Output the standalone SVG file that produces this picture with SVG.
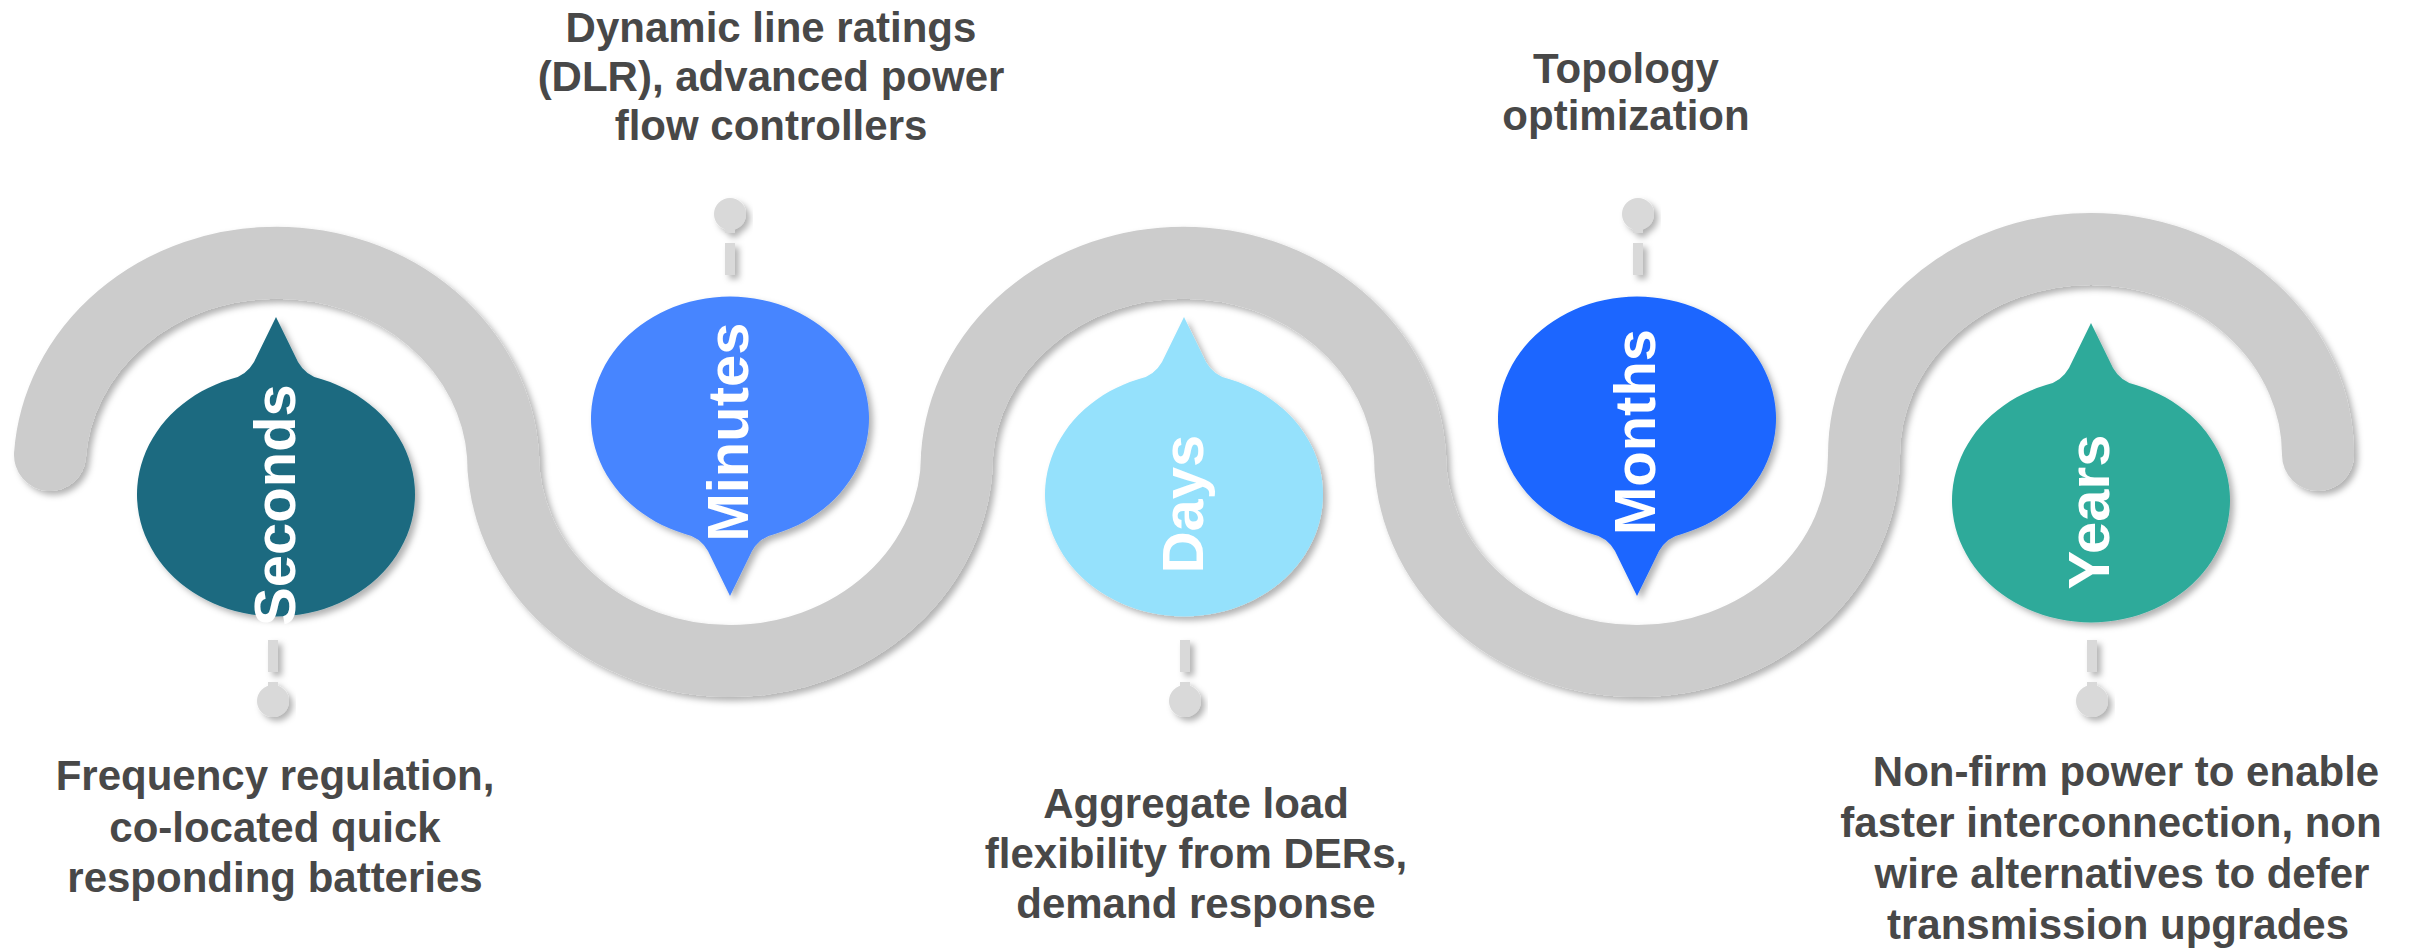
<svg xmlns="http://www.w3.org/2000/svg" width="2419" height="949" viewBox="0 0 2419 949">
<style>
.cap{font-family:"Liberation Sans",Arial,sans-serif;font-weight:bold;font-size:42px;fill:#484848;text-anchor:middle}
.lbl{font-family:"Liberation Sans",Arial,sans-serif;font-weight:bold;font-size:58px;fill:#ffffff;text-anchor:middle}
.pin{fill:#d9d9d9}
</style>
<defs>
<filter id="sh" x="-20%" y="-20%" width="140%" height="140%">
<feDropShadow dx="4" dy="4" stdDeviation="3" flood-color="#000" flood-opacity="0.3"/>
</filter>
<path id="drop" d="M-45,-115 Q-30,-118 -22,-132 L0,-177 L22,-132 Q30,-118 45,-115 A139,122 0 1 1 -45,-115 Z"/>
<g id="pinDown">
<rect x="-5" y="0" width="10" height="32"/>
<rect x="-5" y="42" width="10" height="10"/>
<circle cx="0" cy="61" r="16"/>
</g>
</defs>
<rect width="2419" height="949" fill="#ffffff"/>
<g id="connectors" filter="url(#sh)">
<path d="M50,455 A227,206 0 0 1 503,455 A227,206 0 0 0 957,455 A227,206 0 0 1 1410,455 A227,206 0 0 0 1864,455 A227,206 0 0 1 2318,455" fill="none" stroke="#cccccc" stroke-width="72" stroke-linecap="round"/>
</g>
<g id="seconds">
<g filter="url(#sh)"><use href="#drop" transform="translate(276,494)" fill="#1b6b80"/></g>
<g class="pin" filter="url(#sh)"><use href="#pinDown" transform="translate(273,640)"/></g>
<text class="lbl" transform="translate(295,505) rotate(-90)">Seconds</text>
<text class="cap"><tspan x="275" y="790">Frequency regulation,</tspan><tspan x="275" y="842">co-located quick</tspan><tspan x="275" y="892">responding batteries</tspan></text>
</g>
<g id="minutes">
<g filter="url(#sh)"><use href="#drop" transform="translate(730,419) scale(1,-1)" fill="#4785ff"/></g>
<g class="pin" filter="url(#sh)"><use href="#pinDown" transform="translate(730,275) scale(1,-1)"/></g>
<text class="lbl" transform="translate(748,432) rotate(-90)">Minutes</text>
<text class="cap"><tspan x="771" y="42">Dynamic line ratings</tspan><tspan x="771" y="91">(DLR), advanced power</tspan><tspan x="771" y="140">flow controllers</tspan></text>
</g>
<g id="days">
<g filter="url(#sh)"><use href="#drop" transform="translate(1184,494)" fill="#95e1fc"/></g>
<g class="pin" filter="url(#sh)"><use href="#pinDown" transform="translate(1185,640)"/></g>
<text class="lbl" transform="translate(1203,504) rotate(-90)">Days</text>
<text class="cap"><tspan x="1196" y="818">Aggregate load</tspan><tspan x="1196" y="868">flexibility from DERs,</tspan><tspan x="1196" y="918">demand response</tspan></text>
</g>
<g id="months">
<g filter="url(#sh)"><use href="#drop" transform="translate(1637,419) scale(1,-1)" fill="#1a66ff"/></g>
<g class="pin" filter="url(#sh)"><use href="#pinDown" transform="translate(1638,275) scale(1,-1)"/></g>
<text class="lbl" transform="translate(1655,432) rotate(-90)">Months</text>
<text class="cap"><tspan x="1626" y="83">Topology</tspan><tspan x="1626" y="130">optimization</tspan></text>
</g>
<g id="years">
<g filter="url(#sh)"><use href="#drop" transform="translate(2091,500)" fill="#2faa9a"/></g>
<g class="pin" filter="url(#sh)"><use href="#pinDown" transform="translate(2092,640)"/></g>
<text class="lbl" transform="translate(2109,512) rotate(-90)">Years</text>
<text class="cap"><tspan x="2126" y="786">Non-firm power to enable</tspan><tspan x="2111" y="837">faster interconnection, non</tspan><tspan x="2122" y="888">wire alternatives to defer</tspan><tspan x="2118" y="939">transmission upgrades</tspan></text>
</g>
</svg>
